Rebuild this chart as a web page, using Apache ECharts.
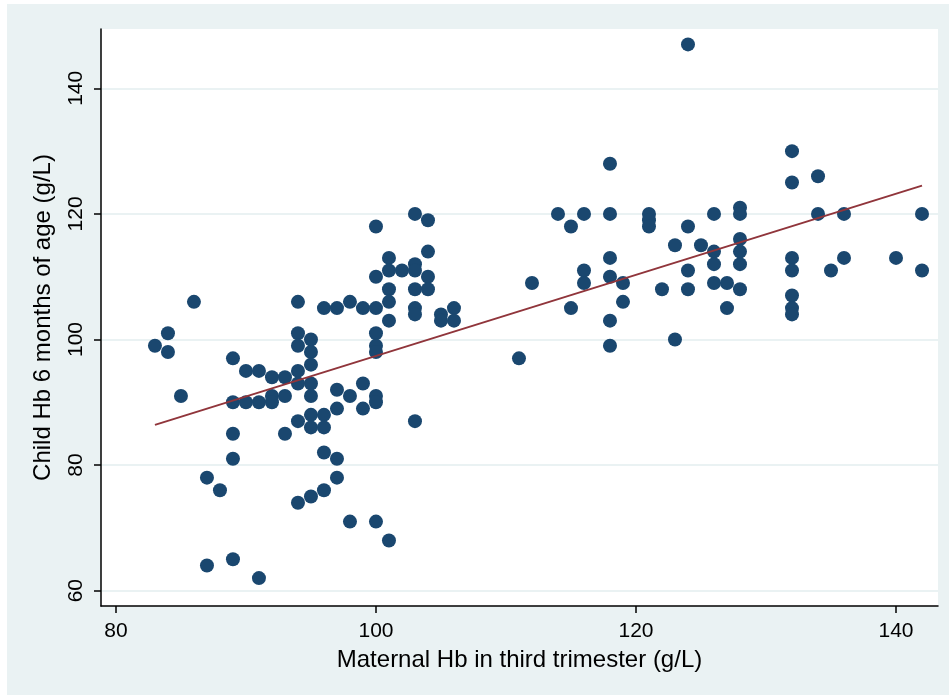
<!DOCTYPE html>
<html>
<head>
<meta charset="utf-8">
<script src="https://cdn.jsdelivr.net/npm/echarts@6/dist/echarts.min.js"></script>
<style>
  html, body { margin: 0; padding: 0; background: #ffffff; }
  #bg { position: absolute; left: 7px; top: 4px; width: 942px; height: 691px; background: #eaf2f3; }
  #chart { position: absolute; left: 0; top: 0; width: 949px; height: 697px; }
</style>
</head>
<body>
<div id="bg"></div>
<div id="chart"></div>
<script>
// Maternal Hb in third trimester (g/L)
const maternalHb = [
  83, 84, 84, 85, 86, 87, 87, 88, 89, 89, 89, 89, 89, 90, 90, 91, 91, 91,
  92, 92, 92, 93, 93, 93, 94, 94, 94, 94, 94, 94, 94,
  95, 95, 95, 95, 95, 95, 95, 95, 96, 96, 96, 96, 96,
  97, 97, 97, 97, 97, 98, 98, 98, 99, 99, 99,
  100, 100, 100, 100, 100, 100, 100, 100, 100,
  101, 101, 101, 101, 101, 101, 102,
  103, 103, 103, 103, 103, 103, 103, 104, 104, 104, 104,
  105, 105, 106, 106, 111, 112, 114, 115, 115, 116, 116, 116,
  118, 118, 118, 118, 118, 118, 119, 119, 121, 121, 121, 122, 123, 123,
  124, 124, 124, 124, 125, 126, 126, 126, 126, 127, 127,
  128, 128, 128, 128, 128, 128,
  132, 132, 132, 132, 132, 132, 132, 134, 134, 135, 136, 136, 140, 142, 142
];
// Child Hb 6 months of age (g/L)
const childHb = [
  99, 101, 98, 91, 106, 78, 64, 76, 97, 90, 85, 81, 65, 95, 90, 95, 90, 62,
  94, 91, 90, 94, 91, 85, 106, 101, 99, 95, 93, 87, 74,
  100, 98, 96, 93, 91, 88, 86, 75, 105, 88, 86, 82, 76,
  105, 92, 89, 81, 78, 106, 91, 71, 105, 93, 89,
  118, 110, 105, 101, 99, 98, 91, 90, 71,
  113, 111, 108, 106, 103, 68, 111,
  120, 112, 111, 108, 105, 104, 87, 119, 114, 110, 108,
  104, 103, 105, 103, 97, 109, 120, 118, 105, 120, 111, 109,
  128, 120, 113, 110, 103, 99, 109, 106, 120, 119, 118, 108, 115, 100,
  147, 118, 111, 108, 115, 120, 114, 112, 109, 109, 105,
  121, 120, 116, 114, 112, 108,
  130, 125, 113, 111, 107, 105, 104, 126, 120, 111, 120, 113, 113, 120, 111
];
// Linear fit endpoints
const fitX = [83, 142];
const fitY = [86.4, 124.5];
// Tick labels
const xTicks = [80, 100, 120, 140];
const yTicks = [60, 80, 100, 120, 140];

const FONT = "'Liberation Sans', Arial, sans-serif";
const points = maternalHb.map((x, i) => [x, childHb[i]]);
const fitLine = fitX.map((x, i) => [x, fitY[i]]);

const chart = echarts.init(document.getElementById('chart'), null, { renderer: 'canvas' });
chart.setOption({
  backgroundColor: 'transparent',
  animation: false,
  grid: {
    left: 101, right: 11, top: 29, bottom: 91,
    show: true, backgroundColor: '#ffffff', borderWidth: 0
  },
  xAxis: {
    type: 'value',
    min: 78.85, max: 143.23,
    name: 'Maternal Hb in third trimester (g/L)',
    nameLocation: 'middle',
    nameGap: 42,
    nameTextStyle: { fontFamily: FONT, fontSize: 24, color: '#000' },
    axisLine: { show: true, onZero: false, lineStyle: { color: '#000', width: 1.5 } },
    axisTick: { show: true, inside: false, length: 7, customValues: xTicks, lineStyle: { color: '#000', width: 1.5 } },
    axisLabel: { customValues: xTicks, fontFamily: FONT, fontSize: 21, color: '#000', margin: 15 },
    splitLine: { show: false }
  },
  yAxis: {
    type: 'value',
    min: 57.56, max: 149.45,
    name: 'Child Hb 6 months of age (g/L)',
    nameLocation: 'middle',
    nameGap: 46,
    nameRotate: 90,
    nameTextStyle: { fontFamily: FONT, fontSize: 24, color: '#000' },
    axisLine: { show: true, onZero: false, lineStyle: { color: '#000', width: 1.5 } },
    axisTick: { show: true, inside: false, length: 7, customValues: yTicks, lineStyle: { color: '#000', width: 1.5 } },
    axisLabel: { customValues: yTicks, rotate: 90, fontFamily: FONT, fontSize: 21, color: '#000', margin: 14 },
    splitLine: { show: true, lineStyle: { color: '#eaf2f3', width: 2 } }
  },
  series: [
    {
      type: 'scatter',
      data: points,
      symbol: 'circle',
      symbolSize: 14,
      itemStyle: { color: '#1a476f', opacity: 1 },
      z: 2
    },
    {
      type: 'line',
      data: fitLine,
      showSymbol: false,
      symbol: 'none',
      lineStyle: { color: '#90353b', width: 2 },
      z: 3
    }
  ]
});
</script>
</body>
</html>
